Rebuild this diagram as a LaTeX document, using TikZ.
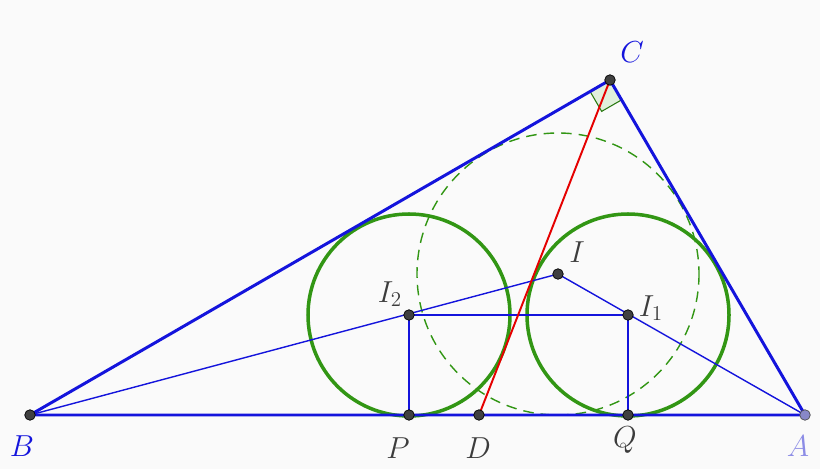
\documentclass[tikz,border=0pt]{standalone}
\usepackage{amsmath}
\usetikzlibrary{calc}

\definecolor{geoblue}{RGB}{20,20,220}
\definecolor{geogreen}{RGB}{50,150,20}
\definecolor{labgray}{RGB}{60,60,60}
\definecolor{lavender}{RGB}{140,140,230}

\tikzset{
  side/.style={geoblue, line width=1.7pt},
  aux/.style={geoblue, line width=0.8pt},
  incirc/.style={geogreen, line width=2pt},
  dot/.style={circle, fill=black!75, draw=black, inner sep=0pt, minimum size=6pt},
  lab/.style={font=\fontsize{17}{20}\selectfont, text=labgray}
}

\begin{document}
\begin{tikzpicture}[x=0.02cm, y=-0.02cm]
		\fill[black!2] (0,0) rectangle (820,469);
		\useasboundingbox (0,0) rectangle (820,469);

		\coordinate (B) at (30,415);
		\coordinate (A) at (805,415);
		\coordinate (C) at (610,80);
		\coordinate (D) at (479,415);
		\coordinate (I) at (558,274);
		\coordinate (I1) at (628,315);
		\coordinate (I2) at (409,315);
		\coordinate (P) at (409,415);
		\coordinate (Q) at (628,415);

		% right angle at C
		\coordinate (cb) at ($(C)!0.46cm!(B)$);
		\coordinate (ca) at ($(C)!0.46cm!(A)$);
		\coordinate (cm) at ($(cb)+(ca)-(C)$);
		\fill[geogreen!15] (C) -- (cb) -- (cm) -- (ca) -- cycle;
		\draw[geogreen!80!black, line width=0.6pt] (cb) -- (cm) -- (ca);

		% circles
		\draw[geogreen, line width=0.8pt, dash pattern=on 6pt off 4pt] (I) circle (141);
		\draw[incirc] (I1) circle (101);
		\draw[incirc] (I2) circle (101);

		% thin lines
		\draw[aux] (B) -- (I) -- (A);
		\draw[aux] (I2) -- (I1);
		\draw[aux] (I2) -- (P);
		\draw[aux] (I1) -- (Q);

		\draw[red!90!black, line width=1.1pt] (C) -- (D);

		% triangle
		\draw[side] (B) -- (A) -- (C) -- cycle;

		% points
		\foreach \p in {B, C, D, I, I1, I2, P, Q}
			\node[dot] at (\p) {};
		\node[dot, fill=lavender!70!gray, draw=black!70] at (A) {};

		% labels
		\node[lab, text=geoblue] (labB) at (22,446) {$B$};
		\node[lab, text=geoblue] (labC) at (632,52) {$C$};
		\node[lab, text=lavender] (labA) at (798,446) {$A$};
		\node[lab] (labP) at (398,448) {$P$};
		\node[lab] (labD) at (478,448) {$D$};
		\node[lab] (labQ) at (625,440) {$Q$};
		\node[lab] (labI) at (577,252) {$I$};
		\node[lab] (labI1) at (651,308) {$I_1$};
		\node[lab] (labI2) at (390,294) {$I_2$};

	\end{tikzpicture}
\end{document}
